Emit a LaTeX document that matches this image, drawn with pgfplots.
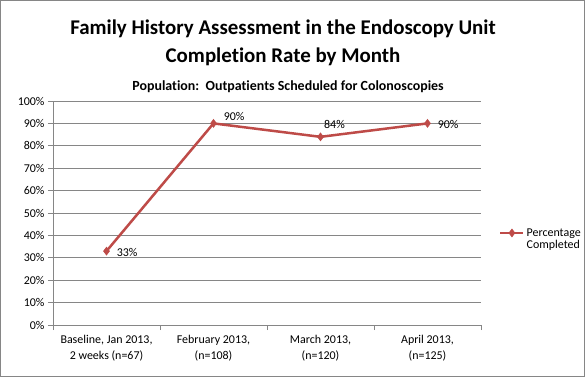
\documentclass[border=0pt]{standalone}
\usepackage{pgfplots}
\pgfplotsset{compat=1.18}
\usepackage{fontspec}
\setmainfont[Ligatures=CommonOff]{Carlito}
\definecolor{linered}{HTML}{BE4B48}
\definecolor{gridgray}{HTML}{868686}
\begin{document}
\begin{tikzpicture}
\useasboundingbox (0,0) rectangle (585bp,-377bp);
\fill[white] (0,0) rectangle (585bp,-377bp);
\draw[gridgray, line width=1bp] (0.5bp,-0.5bp) rectangle (584.5bp,-376.5bp);
\node[anchor=base, font=\fontsize{21}{25}\selectfont\bfseries] at (283bp,-34bp) {Family History Assessment in the Endoscopy Unit};
\node[anchor=base, font=\fontsize{21}{25}\selectfont\bfseries] at (283bp,-62bp) {Completion Rate by Month};
\node[anchor=base, font=\fontsize{14}{17}\selectfont\bfseries] at (288bp,-90bp) {Population:\ \ Outpatients Scheduled for Colonoscopies};
\begin{axis}[
  at={(53bp,-325bp)}, anchor=south west,
  scale only axis, width=428bp, height=224bp,
  xmin=-0.5, xmax=3.5, ymin=0, ymax=100,
  axis x line*=bottom, axis y line*=left,
  axis line style={gridgray, line width=0.8bp},
  ytick={0,10,...,100},
  yticklabel={\pgfmathprintnumber{\tick}\%},
  ymajorgrids, grid style={gridgray, line width=0.8bp},
  xtick={0,1,2,3},
  xticklabels={{Baseline, Jan 2013,\\2 weeks (n=67)},{February 2013,\\(n=108)},{March 2013,\\(n=120)},{April 2013,\\(n=125)}},
  xticklabel style={align=center, font=\fontsize{12}{15.5}\selectfont, yshift=-2bp},
  yticklabel style={font=\fontsize{12}{14}\selectfont},
  major x tick style={draw=none},
  minor xtick={-0.5,0.5,1.5,2.5,3.5},
  tick align=outside, major tick length=5bp, minor tick length=5bp,
  tick style={gridgray, line width=0.8bp},
  /pgf/number format/assume math mode=true,
  legend style={draw=none, fill=none, at={(1.035,0.45)}, anchor=north west,
    font=\fontsize{12}{14}\selectfont, row sep=-1bp},
  legend cell align=left,
  legend image code/.code={\draw[mark repeat=2,mark phase=2] plot coordinates {(0bp,0bp)(11.5bp,0bp)(23bp,0bp)};},
]
\addplot[linered, line width=2.5bp, mark=diamond*, mark size=4bp, mark options={fill=linered, solid, line width=0.5bp},
  point meta=explicit,
  nodes near coords={\pgfmathprintnumber{\pgfplotspointmeta}\%},
  visualization depends on={value \thisrow{anc} \as \myanc},
  visualization depends on={\thisrow{dx} \as \mydx},
  visualization depends on={\thisrow{dy} \as \mydy},
  every node near coord/.append style={anchor=\myanc, xshift=\mydx bp, yshift=\mydy bp, text=black, font=\fontsize{12}{14}\selectfont, inner sep=0pt},
] table[x=x, y=y, meta=y] {
x y anc dx dy
0 33 west 10 -1
1 90 west 10 7
2 84 center 14 12
3 90 west 10 -1
};
\addlegendentry{Percentage}
\addlegendimage{empty legend}
\addlegendentry{Completed}
\end{axis}
\end{tikzpicture}
\end{document}
